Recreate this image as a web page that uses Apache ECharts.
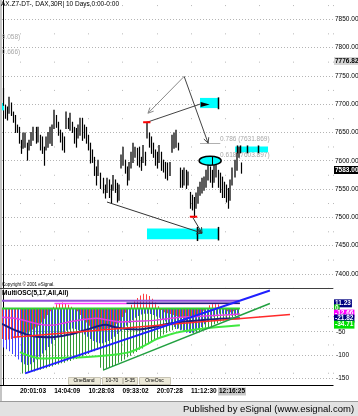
<!DOCTYPE html>
<html><head><meta charset="utf-8">
<script src="https://cdn.jsdelivr.net/npm/echarts@6/dist/echarts.min.js"></script>
<style>html,body{margin:0;padding:0;background:#fff;overflow:hidden}#chart{width:358px;height:416px}</style>
</head><body><div id="chart"></div>
<script>
// ---------------- data ----------------
const barHigh = [
7728,7698,7695,7712,7702,7686,7680,7663,7659,7636,
7649,7649,7631,7636,7650,7659,7659,7659,7645,7642,
7624,7642,7650,7659,7663,7689,7680,7668,7654,7649,
7642,7686,7675,7684,7668,7659,7657,7663,7675,7675,
7663,7659,7645,7631,7619,7606,7589,7601,7578,7569,
7557,7569,7566,7557,7574,7566,7560,7557,7610,7624,
7601,7589,7597,7615,7631,7624,7622,7624,7606,7627,
7615,7668,7649,7642,7631,7619,7615,7627,7615,7601,
7597,7596,7597,7645,7649,7654,7631,7587,7583,7587,
7583,7580,7544,7539,7535,7543,7553,7562,7569,7571,
7583,7596,7589,7583,7596,7592,7583,7578,7571,7562,
7557,7551,7566,7587,7601,7613,7624,7596];
const barLow = [
7698,7675,7672,7684,7680,7668,7650,7650,7631,7613,
7622,7624,7601,7619,7627,7636,7631,7633,7619,7613,
7592,7619,7624,7631,7627,7657,7659,7645,7633,7619,
7615,7657,7657,7654,7650,7631,7624,7640,7645,7636,
7640,7631,7619,7596,7597,7574,7557,7574,7551,7543,
7534,7544,7535,7525,7548,7544,7527,7530,7587,7592,
7578,7557,7566,7587,7597,7606,7592,7589,7583,7597,
7592,7640,7624,7613,7606,7592,7587,7597,7583,7580,
7569,7566,7574,7615,7622,7624,7619,7553,7553,7557,
7551,7557,7516,7513,7500,7516,7525,7539,7543,7548,
7553,7566,7562,7553,7562,7571,7553,7544,7535,7535,
7527,7516,7530,7557,7571,7583,7606,7578];
const timeLabels = ['20:01:03','14:04:09','10:28:03','09:33:02','20:07:28','11:12:30'];
const currentTime = '12:16:25';
const lastPrice = '7583.00';
const refPrice = '7776.82';

const oscRed = [
-66,-68,-67,-66,-64,-62,-58,-55,-52,-48,
-45,-41,-37,-30,-22,-14,-6,4,9,12,
13,11,8,4,0,-6,-14,-22,-30,-37,
-42,-45,-47,-46,-44,-43,-41,-38,-33,-26,
-18,-9,-1,8,16,23,28,32,31,27,
21,13,5,-3,-8,-10,-12,-14,-16,-18,
-20,-21,-22,-21,-19,-15,-10,-5,1,7,
10,11,9,4,-2,-6,-8,-6,-3];
const oscBlue = [
-84,-88,-92,-98,-104,-110,-116,-120,-122,-120,
-116,-110,-104,-97,-90,-83,-76,-68,-62,-57,
-52,-48,-45,-43,-44,-47,-51,-56,-61,-66,
-70,-73,-75,-75,-73,-70,-66,-61,-55,-49,
-43,-37,-31,-25,-20,-16,-13,-11,-11,-12,
-14,-17,-20,-24,-28,-32,-36,-40,-44,-47,
-50,-52,-53,-52,-49,-45,-40,-34,-28,-22,
-17,-13,-11,-11,-12,-14,-15,-15,-14];
const oscGreen = [
0,0,0,0,0,0,-140,-138,-139,-136,
-136,-133,-132,-130,-129,-126,-125,-122,-121,-118,
-117,-114,-113,-110,-109,-106,-104,-100,-98,-94,
-92,-89,-128,-133,-130,-128,-124,-122,-117,-114,
-110,-105,-102,-97,-94,-89,-86,-80,-77,-72,
-69,-64,-61,-56,-53,-49,-47,-44,-43,-46,
-48,-51,-53,-54,-52,-51,-47,-45,-41,-39,
-34,-32,-28,-26,-22,-21,-18,-17,-15];
const oscNavy = [[-0.5,-33],[4,-47],[10,-60],[16,-62],[22,-56],[28,-45],[32,-37],[34,-35],[37,-40],[41,-44],[45,-45],[50,-40],[54,-34],[59,-29],[65,-26],[72,-22],[78.8,-21]];
const oscMagenta = [[-0.5,-19],[4.5,-22],[12,-34],[16,-36],[21,-30],[31,-21],[35,-25],[39,-29],[46,-27],[51,-25],[59,-19],[70,-15],[78.8,-12]];
const oscLime = [[5.5,-94],[9,-103],[13,-108],[20,-106],[26.5,-105],[35,-101],[42,-94],[47,-80],[51,-66],[55,-57],[59,-50],[67,-43],[78.8,-36]];
const trendBlue = [[7.2,-140],[88.8,39]];
const trendDkGreen = [[33.2,-133],[88.8,11]];
const trendRed = [[3.2,-62],[95.5,-13]];
const levelPurple = [[-0.5,17],[78.5,17]];
const levelMagenta = [[17,11],[78.8,11]];
const levelNavy = [[41,11.2],[78.8,11.2]];
const levelZero = [[-0.5,0],[78.8,0]];
const oscTags = [['11.23',11.23],['0',0],['-12.66',-11],['-21.82',-21.82],['-34.71',-34.71]];

// drawing annotations, in data coordinates (bar index, price)
const arrowSegs = [[89.2,7749,71.4,7684],[89.2,7749,101,7631],[51.2,7527,98,7472],[93.4,7500,98,7472]];
const plainSegs = [[70.9,7668,97,7700]];
const cyanBoxes = [[97,7711,105.9,7693],[114.3,7625,130.5,7615],[70.9,7480,105.9,7461],[-0.5,7702,0.5,7689]];
const blackTicks = [[105.9,7712,7691],[115,7627,7613],[116.9,7627,7613],[120.3,7627,7613],[125.6,7627,7613],[105.9,7483,7459],[95.6,7483,7458]];
const blackMarks = [[97.3,7704,101.8,7695]];
const swingMarks = [[69,72.6,7668],[92,95.6,7501]];
const fibSegs = [[97,107,7631.869]];
const fibTexts = ['0.786 (7631.869)','0.618 (7603.897)','9.058)','0.666)'];
const fibAnchors = [[106.9,7631.869],[106.9,7603.897],[-0.6,7812],[-0.6,7786]];
const ellipses = [[102,7600]];

// ---------------- chart ----------------
const FF = '"Liberation Sans", Arial, sans-serif';
const upFlag = barHigh.map((h,i)=> i===0 ? 0 : ((h+barLow[i]) >= (barHigh[i-1]+barLow[i-1]) ? 1 : 0));
const barData = barHigh.map((h,i)=>[i, barLow[i], h, upFlag[i]]);
const histData = oscRed.map((r,k)=>[k, r, oscBlue[k], oscGreen[k]]);
const arrowColors = ['#8a8a8a','#444','#333','#333'];

function barItem(params, api){
  const i=api.value(0), a=api.coord([i,api.value(1)]), b=api.coord([i,api.value(2)]);
  const up=api.value(3)===1;
  const x=Math.round(a[0]) + (up?0:0.5);
  return {type:'line', shape:{x1:x,y1:a[1]+0.5,x2:x,y2:b[1]-0.5}, style:{stroke:up?'#5c5c5c':'#000', lineWidth:up?2:1.2}};
}
function arrowItem(params, api){
  const a=api.coord([api.value(0),api.value(1)]), b=api.coord([api.value(2),api.value(3)]);
  const ang=Math.atan2(b[1]-a[1], b[0]-a[0]), L=6, sp=0.45;
  const h1=[b[0]-L*Math.cos(ang-sp), b[1]-L*Math.sin(ang-sp)];
  const h2=[b[0]-L*Math.cos(ang+sp), b[1]-L*Math.sin(ang+sp)];
  const c=arrowColors[params.dataIndex];
  return {type:'group', children:[
    {type:'line', shape:{x1:a[0],y1:a[1],x2:b[0],y2:b[1]}, style:{stroke:c,lineWidth:1}},
    {type:'polyline', shape:{points:[h1,b,h2]}, style:{stroke:c,lineWidth:1,fill:null}}
  ]};
}
function segItem(params, api){
  const a=api.coord([api.value(0),api.value(1)]), b=api.coord([api.value(2),api.value(3)]);
  return {type:'line', shape:{x1:a[0],y1:a[1],x2:b[0],y2:b[1]}, style:{stroke:'#444',lineWidth:1}};
}
function boxItem(params, api){
  const a=api.coord([api.value(0),api.value(1)]), b=api.coord([api.value(2),api.value(3)]);
  return {type:'rect', shape:{x:a[0],y:a[1],width:b[0]-a[0],height:b[1]-a[1]}, style:{fill:'#00ffff'}};
}
function markItem(params, api){
  const a=api.coord([api.value(0),api.value(1)]), b=api.coord([api.value(2),api.value(3)]);
  return {type:'polygon', shape:{points:[[a[0],a[1]],[b[0],(a[1]+b[1])/2],[a[0],b[1]]]}, style:{fill:'#000'}};
}
function tickItem(params, api){
  const a=api.coord([api.value(0),api.value(1)]), b=api.coord([api.value(0),api.value(2)]);
  const x=Math.round(a[0])+0.5;
  return {type:'line', shape:{x1:x,y1:a[1],x2:x,y2:b[1]}, style:{stroke:'#000',lineWidth:1.5}};
}
function swingItem(params, api){
  const a=api.coord([api.value(0),api.value(2)]), b=api.coord([api.value(1),api.value(2)]);
  return {type:'line', shape:{x1:a[0],y1:a[1],x2:b[0],y2:b[1]}, style:{stroke:'#ff0000',lineWidth:2}};
}
function fibSegItem(params, api){
  const a=api.coord([api.value(0),api.value(2)]), b=api.coord([api.value(1),api.value(2)]);
  return {type:'line', shape:{x1:a[0],y1:Math.round(a[1])+0.5,x2:b[0],y2:Math.round(a[1])+0.5}, style:{stroke:'#b0b0b0',lineWidth:1}};
}
function fibTextItem(params, api){
  const p=api.coord([api.value(0),api.value(1)]);
  return {type:'text', x:p[0], y:p[1], style:{text:fibTexts[params.dataIndex], fill:'#a8a8a8', fontSize:6.5, fontFamily:FF, align:'left', verticalAlign:'bottom'}};
}
function ellipseItem(params, api){
  const c=api.coord([api.value(0),api.value(1)]);
  return {type:'group', children:[
    {type:'path', shape:{pathData:'M0,50A50,50,0,1,1,100,50A50,50,0,1,1,0,50Z', x:c[0]-11, y:c[1]-4.5, width:22, height:9, layout:'cover'}, style:{fill:'#00ffff', stroke:'#000', lineWidth:1.5}},
    {type:'line', shape:{x1:Math.round(c[0])+2.5,y1:c[1]-4.5,x2:Math.round(c[0])+2.5,y2:c[1]+4.5}, style:{stroke:'#000',lineWidth:1}}
  ]};
}
function histItem(params, api){
  const k=api.value(0), base=api.coord([k,0]);
  const cols=['#ff4040','#4040ff','#339933'];
  const children=[];
  for(let j=0;j<3;j++){
    const v=api.value(j+1);
    if(!v) continue;
    const p=api.coord([k,v]);
    children.push({type:'rect', shape:{x:Math.round(base[0]-1.5)+j, y:Math.min(base[1],p[1]), width:1, height:Math.abs(p[1]-base[1])}, style:{fill:cols[j]}});
  }
  return {type:'group', children};
}
const ann = (data, fn, z) => ({type:'custom', xAxisIndex:0, yAxisIndex:0, data, renderItem:fn, z:z||5, silent:true, clip:false});
const oscLine = (data, color, width, z, smooth) => ({type:'line', xAxisIndex:1, yAxisIndex:1, data, symbol:'none', smooth:smooth||0, silent:true, z:z||4, lineStyle:{color, width}});

const oscSplitColors = ['rgba(0,0,0,0)','rgba(0,0,0,0)','rgba(0,0,0,0)','#b4b4b4','rgba(0,0,0,0)','rgba(0,0,0,0)','rgba(0,0,0,0)','rgba(0,0,0,0)','rgba(0,0,0,0)','rgba(0,0,0,0)'];

// decorations
const G = [];
const txt = (x,y,text,o) => ({type:'text', x, y, z:50, style:Object.assign({text, fontSize:6.5, fontFamily:FF, fill:'#000', align:'left', verticalAlign:'middle'}, o||{})});
G.push({type:'rect', z:50, shape:{x:0,y:0,width:2,height:401}, style:{fill:'#c4c4c4'}});
G.push({type:'line', z:50, shape:{x1:0,y1:288.5,x2:333,y2:288.5}, style:{stroke:'#404040',lineWidth:1}});
G.push({type:'line', z:50, shape:{x1:0,y1:385.5,x2:333.5,y2:385.5}, style:{stroke:'#000',lineWidth:1}});
G.push(txt(1,4.5,'AX.Z7-DT-, DAX,30R| 10 Days,0:00-0:00'));
G.push(txt(2,284.5,'Copyright © 2001 eSignal.',{fontSize:4.5}));
G.push(txt(2,293.5,'MultiOSC(5,17,All,All)',{fontWeight:'bold'}));
[['OneBand',68,100],['10-70',102,122],['5-35',123,137],['OneOsc',139,170]].forEach(b=>{
  G.push({type:'rect', z:50, shape:{x:b[1]+0.5,y:377.5,width:b[2]-b[1],height:7}, style:{fill:'#ece9d8',stroke:'#c8c4b4',lineWidth:1}});
  G.push(txt((b[1]+b[2])/2,381,b[0],{fontSize:5,align:'center'}));
});
G.push(txt(334,61,refPrice,{fontWeight:'bold',backgroundColor:'#d4d4d4',padding:[1,1,0,1]}));
G.push(txt(334,170,lastPrice,{fontWeight:'bold',fill:'#fff',backgroundColor:'#000',padding:[1,1,0,1]}));
const tagStyle = [['#000080','#fff'],['#00c000','#fff'],['#ff00ff','#fff'],['#000080','#fff'],['#00e000','#fff']];
const oscY = v => 290 + (40 - v) * 95 / 205;
oscTags.forEach((t,i)=>G.push(txt(334, oscY(t[1]), t[0], {fontWeight:'bold', fill:tagStyle[i][1], backgroundColor:tagStyle[i][0], padding:[1,1,0,1]})));
G.push(txt(218,391.5,currentTime,{fontWeight:'bold',backgroundColor:'#c8c8c8',padding:[1,1,0,1]}));
G.push({type:'rect', z:50, shape:{x:0,y:401,width:358,height:15}, style:{fill:'#e2e2e2'}});
G.push({type:'line', z:50, shape:{x1:0,y1:401.5,x2:358,y2:401.5}, style:{stroke:'#9a9a9a',lineWidth:1}});
G.push(txt(183,409,'Published by eSignal (www.esignal.com)',{fontSize:9.5}));

const option = {
  animation:false,
  backgroundColor:'#fff',
  textStyle:{fontFamily:FF},
  grid:[
    {left:2, right:25, top:-9, height:297, outerBoundsMode:'none'},
    {left:2, right:25, top:290, height:95, outerBoundsMode:'none'},
    {left:20, right:25, top:2, height:383, outerBoundsMode:'none'}
  ],
  xAxis:[
    {gridIndex:0, type:'value', min:-0.5, max:162.5, show:false},
    {gridIndex:1, type:'value', min:-0.5, max:109.83, show:false},
    {gridIndex:2, type:'value', min:0, max:9.152, interval:1,
      axisLine:{show:false}, axisTick:{show:false},
      axisLabel:{formatter:v=>timeLabels[v]||'', align:'left', margin:3, fontSize:6.5, fontWeight:'bold', color:'#000', showMinLabel:true, showMaxLabel:true},
      splitLine:{show:true, lineStyle:{color:'#b8b8b8', type:[1,27.28], dashOffset:25.2}}}
  ],
  yAxis:[
    {gridIndex:0, type:'value', position:'right', min:7375, max:7900, interval:25,
      axisLine:{show:true, lineStyle:{color:'#000'}}, axisTick:{show:false},
      axisLabel:{formatter:v=>(v%50===0 && v<7900)? v.toFixed(2):'', margin:2, fontSize:6.5, color:'#000'},
      splitLine:{show:true, lineStyle:{color:['rgba(0,0,0,0)','#b4b4b4'], type:[1,2]}}},
    {gridIndex:1, type:'value', position:'right', min:-165, max:40, interval:5,
      axisLine:{show:true, lineStyle:{color:'#000'}}, axisTick:{show:false},
      axisLabel:{formatter:v=>(v===-50||v===-100||v===-150)? String(v):'', margin:3, fontSize:6.5, color:'#000'},
      splitLine:{show:true, lineStyle:{color:oscSplitColors, type:[1,2]}}},
    {gridIndex:2, type:'value', min:0, max:1, show:false}
  ],
  series:[
    {type:'custom', xAxisIndex:0, yAxisIndex:0, data:barData, renderItem:barItem, z:3, silent:true},
    ann(cyanBoxes, boxItem, 2),
    ann(blackMarks, markItem, 6),
    ann(blackTicks, tickItem, 6),
    ann(ellipses, ellipseItem, 6),
    ann(arrowSegs, arrowItem, 7),
    ann(plainSegs, segItem, 7),
    ann(swingMarks, swingItem, 8),
    ann(fibSegs, fibSegItem, 1),
    ann(fibAnchors, fibTextItem, 1),
    {type:'custom', xAxisIndex:1, yAxisIndex:1, data:histData, renderItem:histItem, z:2, silent:true},
    oscLine(levelPurple, '#9050d8', 2, 4),
    oscLine(levelMagenta, '#ff40ff', 1.5, 4),
    oscLine(levelNavy, '#202080', 1.5, 4),
    oscLine(levelZero, '#30d030', 2, 4),
    oscLine(oscMagenta, '#e040e0', 1.5, 5, 0.3),
    oscLine(oscNavy, '#1c1c7c', 2, 5, 0.3),
    oscLine(oscLime, '#40e840', 2, 5, 0.3),
    oscLine(trendRed, '#ff2a2a', 1.5, 6),
    oscLine(trendDkGreen, '#22a040', 1.5, 6),
    oscLine(trendBlue, '#2020ff', 2, 6),
    {type:'line', xAxisIndex:2, yAxisIndex:2, data:[]}
  ],
  graphic:{elements:G}
};
const chart = echarts.init(document.getElementById('chart'), null, {renderer:'canvas'});
chart.setOption(option);
</script></body></html>
